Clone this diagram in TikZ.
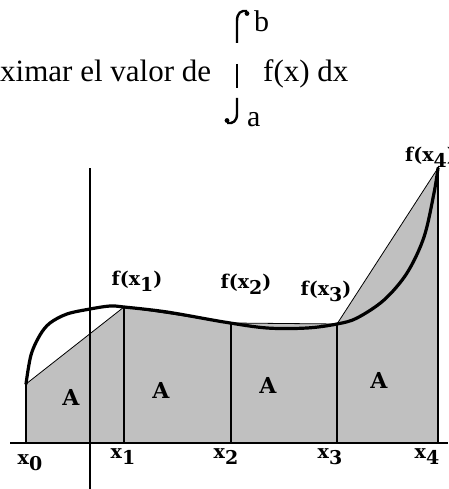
\documentclass[tikz,border=0pt]{standalone}
\usepackage{fontspec}
\setmainfont{Liberation Serif}
\newfontfamily\labelfont{DejaVu Serif}
\usetikzlibrary{positioning}
\definecolor{areafill}{RGB}{192,192,192}
\newcommand\subidx[1]{\raisebox{-6pt}{#1}}

\begin{document}
\begin{tikzpicture}[x=1pt, y=-1pt, every node/.style={font=\labelfont\fontsize{19}{19}\selectfont\bfseries, inner sep=0pt},
    arealabel/.style={font=\labelfont\fontsize{22}{22}\selectfont\bfseries}]
  \useasboundingbox (0,0) rectangle (448,489);
  % formula on top
  \node[anchor=base west, font=\fontsize{31}{31}\selectfont] (lead) at (0,82) {ximar el valor de};
  \node[anchor=base west, font=\fontsize{31}{31}\selectfont] (fx) at (263,82) {f(x) dx};
  \node[anchor=base west, font=\fontsize{30}{30}\selectfont] (ub) at (254,32) {b};
  \node[anchor=base west, font=\fontsize{30}{30}\selectfont] (lb) at (247,127) {a};
  \draw[line width=2.4pt] (237,43) -- (237,21) .. controls (237,13) and (241,10) .. (247,11);
  \fill (247,13.5) circle (2.4pt);
  \draw[line width=2.6pt] (237,64) -- (237,88);
  \draw[line width=2.4pt] (237,98) -- (237,114) .. controls (237,121) and (233,124) .. (227,123);
  \fill (227,120.5) circle (2.4pt);
  % points
  \coordinate (b0) at (26,443);  \coordinate (p0) at (26,384);
  \coordinate (b1) at (124,443); \coordinate (p1) at (124,307);
  \coordinate (b2) at (231,443); \coordinate (p2) at (231,323);
  \coordinate (b3) at (337,443); \coordinate (p3) at (337,324);
  \coordinate (b4) at (438,443); \coordinate (p4) at (438,168);
  % trapezoids
  \fill[areafill] (b0) -- (p0) -- (p1) -- (p2) -- (p3) -- (p4) -- (b4) -- cycle;
  \draw[line width=0.8pt] (p0) -- (p1) -- (p2) -- (p3) -- (p4);
  \foreach \i in {0,...,4}
    \draw[line width=1.6pt] (b\i) -- (p\i);
  % axes
  \coordinate (xl) at (10,443);  \coordinate (xr) at (448,443);
  \coordinate (yt) at (90,168);  \coordinate (yb) at (90,489);
  \draw[line width=1.6pt] (xl) -- (xr);
  \draw[line width=1.6pt] (yt) -- (yb);
  % f(x)
  \draw[line width=3.2pt, line join=round, line cap=round] plot[smooth, tension=0.55] coordinates {
    (26,384) (31,355) (40,335) (50,323) (67,314) (90,309) (110,306) (124,307) (167,312)
    (224,322) (267,328) (307,328) (337,324) (357,318) (384,300) (407,273)
    (424,237) (434,193) (438,168)};
  % labels
  \node (l1) at (137,281) {f(x\subidx{1})};
  \node (l2) at (246,284) {f(x\subidx{2})};
  \node (l3) at (326,291) {f(x\subidx{3})};
  \node[anchor=west] (l4) at (405,157) {f(x\subidx{4})};
  \node (x0) at (30,463) {x\subidx{0}};
  \node (x1) at (123,457) {x\subidx{1}};
  \node (x2) at (226,457) {x\subidx{2}};
  \node (x3) at (330,457) {x\subidx{3}};
  \node (x4) at (427,457) {x\subidx{4}};
  \node[arealabel] (a0) at (71,397) {A};
  \node[arealabel] (a1) at (161,390) {A};
  \node[arealabel] (a2) at (268,385) {A};
  \node[arealabel] (a3) at (379,380) {A};
\end{tikzpicture}
\end{document}
